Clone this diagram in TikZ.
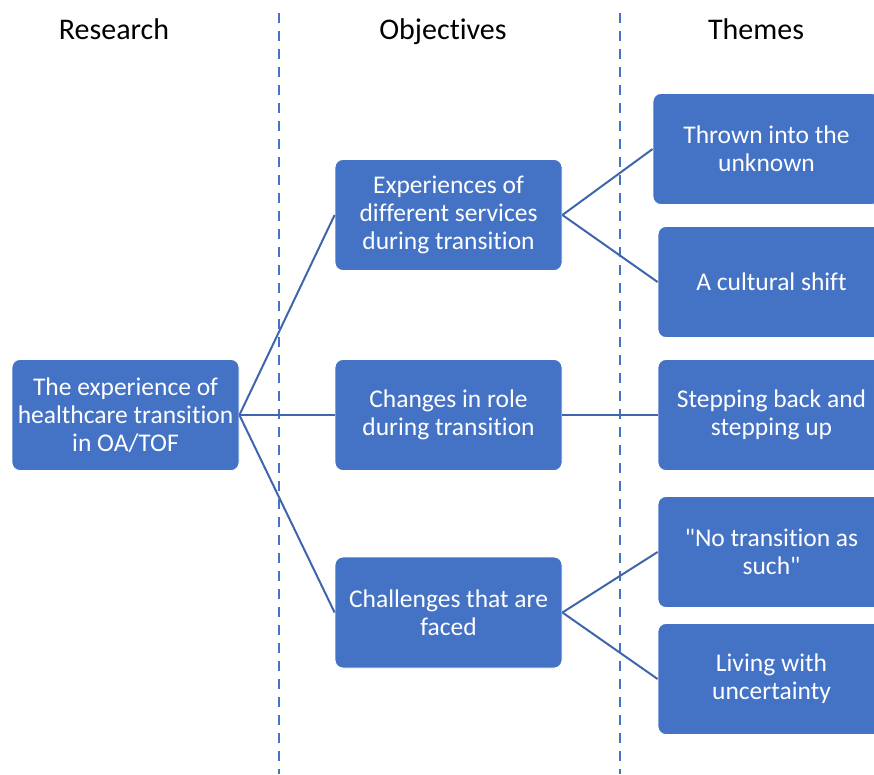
\documentclass[tikz,border=0pt]{standalone}
\usepackage{fontspec}
\setmainfont{Carlito}[Ligatures={TeXOff,NoCommon}]
\definecolor{boxblue}{HTML}{4472C4}
\definecolor{linkblue}{HTML}{3F65AD}
\begin{document}
\begin{tikzpicture}[x=1pt,y=-1pt,
  card/.style={draw=white, line width=0.8pt, fill=boxblue, rounded corners=8pt,
    minimum width=227pt, minimum height=111pt, inner sep=0pt, align=center,
    text=white, font=\fontsize{25.5}{28}\selectfont},
  header/.style={font=\fontsize{30}{34}\selectfont, text=black, anchor=base},
  divider/.style={boxblue, line width=2pt, dash pattern=on 10pt off 8pt},
  link/.style={linkblue, line width=2pt}]
\useasboundingbox (0,0) rectangle (874,774);
\clip (0,0) rectangle (874,774);

% column titles
\node[header] (hres) at (114,39) {Research};
\node[header] (hobj) at (443,39) {Objectives};
\node[header] (hthm) at (756,39) {Themes};

% column dividers
\coordinate (d1t) at (279,13); \coordinate (d1b) at (279,774);
\coordinate (d2t) at (620,13); \coordinate (d2b) at (620,774);
\draw[divider] (d1t) -- (d1b);
\draw[divider] (d2t) -- (d2b);

% research
\node[card] (res) at (125.5,415) {The experience of\\healthcare transition\\in OA/TOF};

% objectives
\node[card] (o1) at (448.5,215) {Experiences of\\different services\\during transition};
\node[card] (o2) at (448.5,415) {Changes in role\\during transition};
\node[card] (o3) at (448.5,612.5) {Challenges that are\\faced};

% themes
\node[card] (t1) at (766.5,149) {Thrown into the\\unknown};
\node[card] (t2) at (771.5,282) {A cultural shift};
\node[card] (t3) at (771.5,415) {Stepping back and\\stepping up};
\node[card] (t4) at (771.5,552) {"No transition as\\such"};
\node[card] (t5) at (771.5,679) {Living with\\uncertainty};

% connectors
\draw[link] (res.east) -- (o1.west);
\draw[link] (res.east) -- (o2.west);
\draw[link] (res.east) -- (o3.west);
\draw[link] (o1.east) -- (t1.west);
\draw[link] (o1.east) -- (t2.west);
\draw[link] (o2.east) -- (t3.west);
\draw[link] (o3.east) -- (t4.west);
\draw[link] (o3.east) -- (t5.west);
\end{tikzpicture}
\end{document}
